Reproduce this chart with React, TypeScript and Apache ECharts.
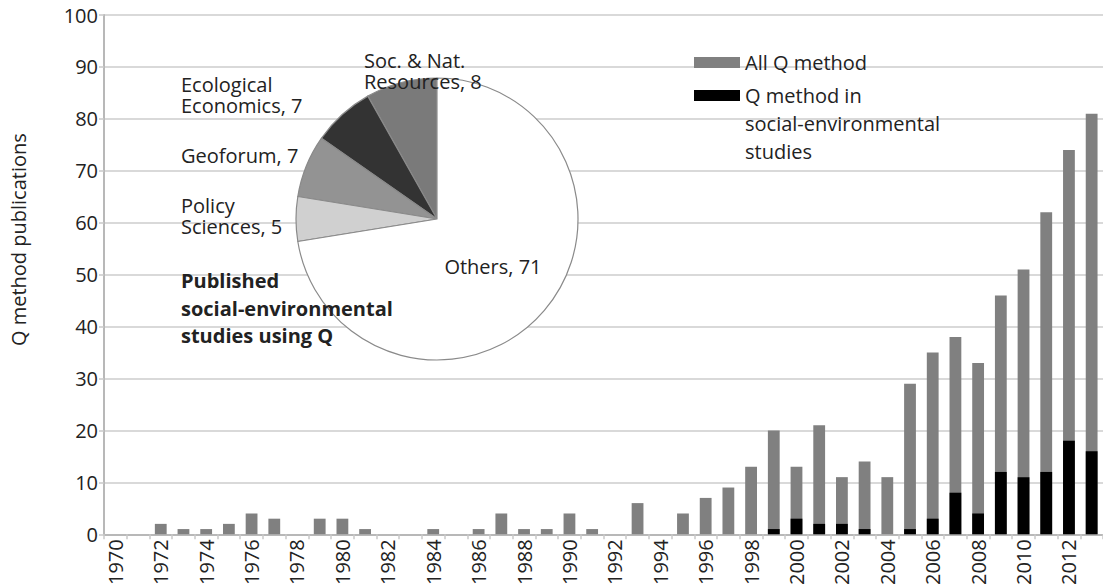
import React, { useEffect, useRef } from "react";
import * as echarts from "echarts";

const years = [
  "1970","1971","1972","1973","1974","1975","1976","1977","1978","1979",
  "1980","1981","1982","1983","1984","1985","1986","1987","1988","1989",
  "1990","1991","1992","1993","1994","1995","1996","1997","1998","1999",
  "2000","2001","2002","2003","2004","2005","2006","2007","2008","2009",
  "2010","2011","2012","2013",
];
const allQ = [
  0, 0, 2, 1, 1, 2, 4, 3, 0, 3,
  3, 1, 0, 0, 1, 0, 1, 4, 1, 1,
  4, 1, 0, 6, 0, 4, 7, 9, 13, 20,
  13, 21, 11, 14, 11, 29, 35, 38, 33, 46,
  51, 62, 74, 81,
];
const socEnv = [
  0, 0, 0, 0, 0, 0, 0, 0, 0, 0,
  0, 0, 0, 0, 0, 0, 0, 0, 0, 0,
  0, 0, 0, 0, 0, 0, 0, 0, 0, 1,
  3, 2, 2, 1, 0, 1, 3, 8, 4, 12,
  11, 12, 18, 16,
];
const allName = "All Q method";
const socName = "Q method in\nsocial-environmental\nstudies";

const pieNames = ["Soc. & Nat.\nResources", "Ecological\nEconomics", "Geoforum", "Policy\nSciences", "Others"];
const pieValues = [8, 7, 7, 5, 71];
const pieColors = ["#7a7a7a", "#333333", "#939393", "#d0d0d0", "#ffffff"];
const pieTitle = "Published\nsocial-environmental\nstudies using Q";
const yAxisName = "Q method publications";

// label anchor positions (layout only)
const pieLabelPos: Array<[number, number] | null> = [
  [364, 71],
  [181, 95],
  [181, 155],
  [181, 216],
  null,
];

const FONT = "Open Sans";
const TXT = "#222";

export default function App() {
  const ref = useRef<HTMLDivElement>(null);
  useEffect(() => {
    if (!ref.current) return;
    const chart = echarts.init(ref.current, null, { renderer: "svg" });
    chart.setOption({
      animation: false,
      backgroundColor: "#ffffff",
      textStyle: { fontFamily: FONT },
      title: {
        text: pieTitle,
        left: 181,
        top: 267,
        padding: 0,
        textStyle: { fontFamily: FONT, fontSize: 20, fontWeight: "bold", color: TXT, lineHeight: 27.5 },
      },
      legend: [
        {
          data: [allName],
          orient: "vertical",
          left: 694,
          top: 48.5,
          padding: 0,
          itemWidth: 46,
          itemHeight: 11,
          itemGap: 0,
          selectedMode: false,
          icon: "rect",
          textStyle: { fontFamily: FONT, fontSize: 20, color: TXT, lineHeight: 28 },
        },
        {
          data: [socName],
          orient: "vertical",
          left: 694,
          top: 25.5,
          padding: 0,
          itemWidth: 46,
          itemHeight: 11,
          itemGap: 0,
          selectedMode: false,
          icon: "rect",
          formatter: (n: string) => "\n\n" + n,
          textStyle: { fontFamily: FONT, fontSize: 20, color: TXT, lineHeight: 28 },
        },
      ],
      grid: { left: 103, right: 0, top: 15, bottom: 53, containLabel: false },
      xAxis: {
        type: "category",
        data: years,
        boundaryGap: true,
        axisLine: { lineStyle: { color: "#b8b8b8", width: 2 } },
        axisTick: { show: true, interval: 0, length: 5, lineStyle: { color: "#c8c8c8", width: 1.5 } },
        axisLabel: {
          interval: 1,
          rotate: 90,
          margin: 5,
          fontFamily: FONT,
          fontSize: 20,
          color: TXT,
        },
        splitLine: { show: false },
      },
      yAxis: {
        type: "value",
        min: 0,
        max: 100,
        interval: 10,
        name: yAxisName,
        nameLocation: "middle",
        nameRotate: 90,
        nameGap: 76,
        nameTextStyle: { fontFamily: FONT, fontSize: 20, color: TXT, padding: [0, 0, 0, 70] },
        axisLine: { show: true, lineStyle: { color: "#b8b8b8", width: 2 } },
        axisTick: { show: true, length: 5, lineStyle: { color: "#c8c8c8", width: 1.5 } },
        axisLabel: { margin: 6, fontFamily: FONT, fontSize: 20, color: TXT },
        splitLine: { show: true, lineStyle: { color: "#cccccc", width: 1.5 } },
      },
      series: [
        {
          name: allName,
          type: "bar",
          data: allQ,
          barWidth: "52%",
          barGap: "-100%",
          itemStyle: { color: "#808080" },
          emphasis: { disabled: true },
          z: 2,
        },
        {
          name: socName,
          type: "bar",
          data: socEnv,
          barWidth: "52%",
          barGap: "-100%",
          itemStyle: { color: "#000000" },
          emphasis: { disabled: true },
          z: 3,
        },
        {
          name: "pie",
          type: "pie",
          center: [437, 219],
          radius: 141,
          startAngle: 90,
          clockwise: false,
          z: 5,
          data: pieNames.map((n, i) => ({ name: n, value: pieValues[i], itemStyle: { color: pieColors[i] } })),
          itemStyle: { borderColor: "#8a8a8a", borderWidth: 1.2 },
          label: {
            show: true,
            position: "inside",
            formatter: "{b}, {c}",
            fontFamily: FONT,
            fontSize: 20,
            lineHeight: 21,
            color: TXT,
          },
          labelLine: { show: false },
          labelLayout: (params: any) => {
            const p = pieLabelPos[params.dataIndex];
            if (!p) return {};
            return { x: p[0], y: p[1], align: "left", verticalAlign: "middle" };
          },
          emphasis: { disabled: true },
          silent: true,
        },
      ],
    });
    return () => chart.dispose();
  }, []);
  return (
    <div
      ref={ref}
      style={{ position: "absolute", left: 0, top: 0, width: 1103, height: 588 }}
    />
  );
}
